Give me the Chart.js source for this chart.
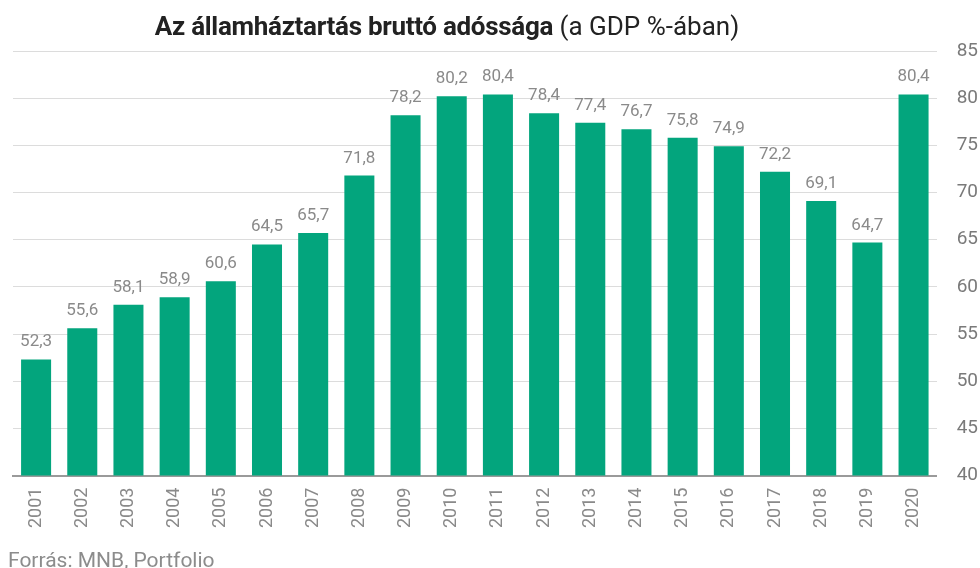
<!DOCTYPE html>
<html>
<head>
<meta charset="utf-8">
<script src="https://cdn.jsdelivr.net/npm/chart.js@4"></script>
<style>
    body { margin: 0; background: #fff; }
    #wrap { position: relative; width: 980px; height: 568px; overflow: hidden; }
    #cim {
        position: absolute; left: 0; width: 894px; top: 11px;
        text-align: center; font-family: Roboto, sans-serif; font-size: 26px;
        color: #222; letter-spacing: 0px; white-space: nowrap;
    }
    #cim b { font-weight: 700; letter-spacing: -0.3px; }
    #forras {
        position: absolute; left: 8px; top: 548px;
        font-family: Roboto, sans-serif; font-size: 21px; color: #8c8c8c;
        white-space: nowrap;
    }
</style>
</head>
<body>
<div id="wrap">
    <canvas id="adossagChart" width="980" height="568"></canvas>
    <div id="cim"><b>Az államháztartás bruttó adóssága</b> (a GDP %-ában)</div>
    <div id="forras">Forrás: MNB, Portfolio</div>
</div>
<script>
const evek = ['2001', '2002', '2003', '2004', '2005', '2006', '2007', '2008', '2009', '2010',
    '2011', '2012', '2013', '2014', '2015', '2016', '2017', '2018', '2019', '2020'];
const adossag = [52.3, 55.6, 58.1, 58.9, 60.6, 64.5, 65.7, 71.8, 78.2, 80.2,
    80.4, 78.4, 77.4, 76.7, 75.8, 74.9, 72.2, 69.1, 64.7, 80.4];
const yTengely = [40, 45, 50, 55, 60, 65, 70, 75, 80, 85];

// értékek kiírása az oszlopok fölé
const ertekCimkek = {
    id: 'ertekCimkek',
    afterDatasetsDraw(chart) {
        const ctx = chart.ctx;
        const meta = chart.getDatasetMeta(0);
        ctx.save();
        ctx.font = '17px Roboto';
        ctx.fillStyle = '#8a8a8a';
        ctx.textAlign = 'center';
        ctx.textBaseline = 'alphabetic';
        meta.data.forEach((bar, i) => {
            ctx.fillText(adossag[i].toFixed(1).replace('.', ','), bar.x, bar.y - 13);
        });
        ctx.restore();
    }
};

const ctx = document.getElementById('adossagChart').getContext('2d');
const chart = new Chart(ctx, {
    type: 'bar',
    data: {
        labels: evek,
        datasets: [{
            data: adossag,
            backgroundColor: '#03a57d',
            barPercentage: 0.65,
            categoryPercentage: 1
        }]
    },
    options: {
        responsive: false,
        animation: false,
        layout: { padding: { top: 51, left: 13, right: -18, bottom: 36 } },
        plugins: {
            legend: { display: false },
            tooltip: { enabled: false }
        },
        scales: {
            x: {
                grid: { display: false },
                border: { display: true, color: '#9a9a9a', width: 2 },
                ticks: {
                    color: '#8a8a8a',
                    font: { family: 'Roboto', size: 18 },
                    maxRotation: 90,
                    minRotation: 90,
                    padding: 4
                }
            },
            y: {
                position: 'right',
                min: 40,
                max: 85,
                afterBuildTicks(axis) {
                    axis.ticks = yTengely.map(v => ({ value: v }));
                },
                grid: { color: '#dcdcdc', drawTicks: false },
                border: { display: false },
                ticks: {
                    color: '#7a7a7a',
                    font: { family: 'Roboto', size: 19 },
                    padding: 20
                }
            }
        }
    },
    plugins: [ertekCimkek]
});
</script>
</body>
</html>
